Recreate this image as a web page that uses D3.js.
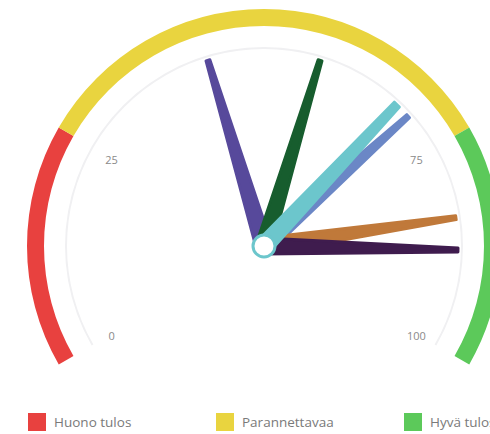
<!DOCTYPE html>
<html>
<head>
<meta charset="utf-8">
<script src="https://d3js.org/d3.v7.min.js"></script>
<style>
body { margin: 0; background: #fff; }
text { font-family: "Open Sans", sans-serif; }
</style>
</head>
<body>
<script>
// bands of the gauge
var bandNames = ["Huono tulos", "Parannettavaa", "Hyvä tulos"];
var bandFrom = [0, 25, 75];
var bandTo = [25, 75, 100];
var bandColors = ["#e8413f", "#e9d43f", "#5cc95a"];

// needles
var needleValues = [43, 57, 70, 84, 88, 68];
var needleColors = ["#57499b", "#175d2e", "#6b87c6", "#c0793a", "#3f1c4e", "#6cc6cc"];

var tickValues = [0, 25, 75, 100];

var width = 490, height = 434;
var cx = 264, cy = 246;

var svg = d3.select("body").append("svg")
	.attr("width", width)
	.attr("height", height);

var angle = d3.scaleLinear()
	.domain([0, 100])
	.range([-2 * Math.PI / 3, 2 * Math.PI / 3]);

var g = svg.append("g")
	.attr("transform", "translate(" + cx + "," + cy + ")");

// thin axis arc
g.append("path")
	.attr("d", d3.arc()({innerRadius: 197, outerRadius: 199, startAngle: angle(0), endAngle: angle(100)}))
	.attr("fill", "#f0f0f2");

// colored bands
var band = d3.arc().innerRadius(220).outerRadius(237);
g.selectAll(".band")
	.data(bandFrom)
	.enter()
	.append("path")
		.attr("class", "band")
		.attr("d", function(d, i) { return band({startAngle: angle(d), endAngle: angle(bandTo[i])}); })
		.attr("fill", function(d, i) { return bandColors[i]; });

// tick labels
g.selectAll(".tick")
	.data(tickValues)
	.enter()
	.append("text")
		.attr("class", "tick")
		.attr("x", function(d) { return 176 * Math.sin(angle(d)); })
		.attr("y", function(d) { return 2 - 176 * Math.cos(angle(d)); })
		.attr("text-anchor", "middle")
		.attr("dy", "0.35em")
		.attr("font-size", 11)
		.attr("fill", "#8a8a8a")
		.text(function(d) { return d; });

// needles
var needleLen = 194;
function needlePath(v, baseW, tipW) {
	var a = angle(v);
	var ux = Math.sin(a), uy = -Math.cos(a);
	var px = -uy, py = ux;
	var pts = [
		[px * baseW, py * baseW],
		[ux * needleLen + px * tipW, uy * needleLen + py * tipW],
		[ux * needleLen - px * tipW, uy * needleLen - py * tipW],
		[-px * baseW, -py * baseW]
	];
	return d3.line()(pts) + "Z";
}

g.selectAll(".needle")
	.data(needleValues)
	.enter()
	.append("path")
		.attr("class", "needle")
		.attr("d", function(d, i) {
			return i == needleValues.length - 1 ? needlePath(d, 8, 3.5) : needlePath(d, 8, 2);
		})
		.attr("fill", function(d, i) { return needleColors[i]; })
		.attr("stroke", function(d, i) { return needleColors[i]; })
		.attr("stroke-linejoin", "round")
		.attr("stroke-width", 3);

// hub
g.append("circle")
	.attr("r", 11)
	.attr("fill", "#fff")
	.attr("stroke", "#6cc6cc")
	.attr("stroke-width", 3);

// legend
var legend = svg.append("g")
	.attr("transform", "translate(28,413)");
var item = legend.selectAll(".item")
	.data(bandNames)
	.enter()
	.append("g")
		.attr("class", "item")
		.attr("transform", function(d, i) { return "translate(" + (i * 188) + ",0)"; });
item.append("rect")
	.attr("width", 18)
	.attr("height", 18)
	.attr("fill", function(d, i) { return bandColors[i]; });
item.append("text")
	.attr("x", 26)
	.attr("y", 9)
	.attr("dy", "0.35em")
	.attr("font-size", 13.5)
	.attr("fill", "#7a7a7a")
	.text(function(d) { return d; });
</script>
</body>
</html>
